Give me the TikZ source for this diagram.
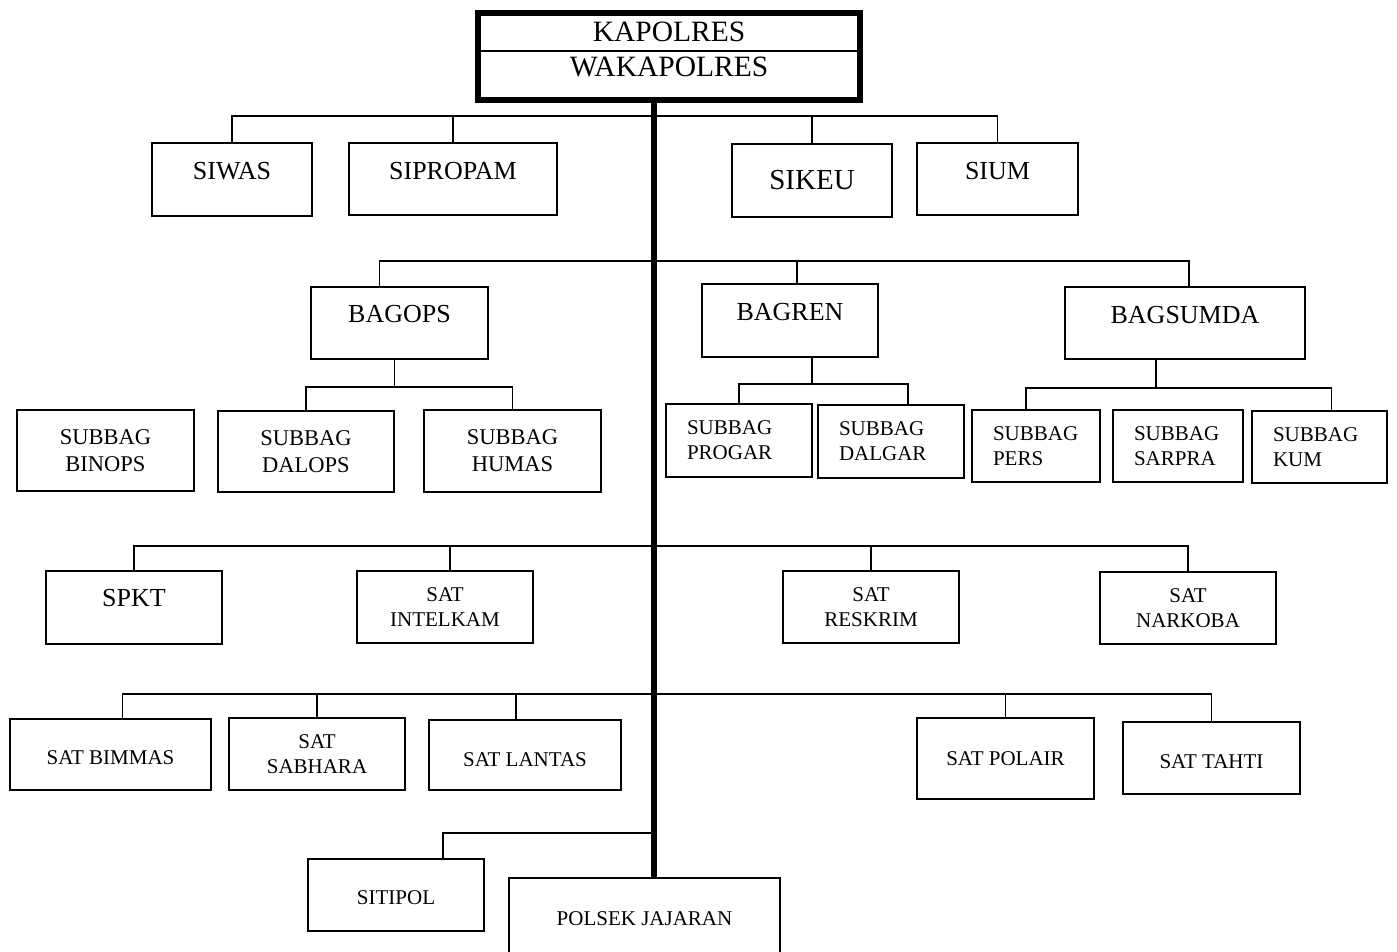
\documentclass[tikz,border=0pt]{standalone}
\usepackage{fontspec}
\setmainfont{Liberation Serif}
\usepackage{tikz}
\tikzstyle{unit}=[draw,line width=1.6pt,inner sep=0pt,outer sep=0pt,align=center]
\tikzstyle{link}=[draw,line width=1.6pt]
\tikzstyle{trunk}=[draw,line width=6pt]
\tikzstyle{big}=[font=\fontsize{29.5}{33}\selectfont]
\tikzstyle{mid}=[font=\fontsize{26}{30}\selectfont]
\tikzstyle{sub}=[font=\fontsize{22.5}{27}\selectfont]
\tikzstyle{small}=[font=\fontsize{21}{25}\selectfont]
\tikzstyle{lefty}=[inner xsep=21pt,align=left]

\begin{document}
\begin{tikzpicture}[x=1pt,y=-1pt]
  \useasboundingbox (0,0) rectangle (1397,952);
  % pimpinan
  \node[unit,big,minimum width=382pt,minimum height=38pt] (kapolres) at (669,32) {KAPOLRES};
  \node[unit,big,minimum width=382pt,minimum height=49pt,text depth=17pt] (wakapolres) at (669,75.5) {WAKAPOLRES};
  % unsur pengawas dan pembantu
  \node[unit,mid,minimum width=160pt,minimum height=73pt,text depth=17pt] (siwas) at (232,179.5) {SIWAS};
  \node[unit,mid,minimum width=208pt,minimum height=72pt,text depth=16pt] (sipropam) at (453,179) {SIPROPAM};
  \node[unit,font=\fontsize{29}{33}\selectfont,minimum width=160pt,minimum height=73pt] (sikeu) at (812,180.5) {SIKEU};
  \node[unit,mid,minimum width=161pt,minimum height=72pt,text depth=16pt] (sium) at (997.5,179) {SIUM};
  % bagian
  \node[unit,mid,minimum width=177pt,minimum height=72pt,text depth=18pt] (bagops) at (399.5,323) {BAGOPS};
  \node[unit,mid,minimum width=176pt,minimum height=73pt,text depth=17pt] (bagren) at (790,320.5) {BAGREN};
  \node[unit,mid,minimum width=240pt,minimum height=72pt,text depth=16pt] (bagsumda) at (1185,323) {BAGSUMDA};
  % subbag
  \node[unit,sub,minimum width=177pt,minimum height=81pt] (binops) at (105.5,450.5) {SUBBAG\\BINOPS};
  \node[unit,sub,minimum width=176pt,minimum height=81pt] (dalops) at (306,451.5) {SUBBAG\\DALOPS};
  \node[unit,sub,minimum width=177pt,minimum height=82pt] (humas) at (512.5,451) {SUBBAG\\HUMAS};
  \node[unit,small,lefty,text width=104pt,minimum width=146pt,minimum height=73pt] (progar) at (739,440.5) {SUBBAG\\PROGAR};
  \node[unit,small,lefty,text width=104pt,minimum width=146pt,minimum height=73pt] (dalgar) at (891,441.5) {SUBBAG\\DALGAR};
  \node[unit,small,lefty,text width=86pt,minimum width=128pt,minimum height=72pt] (pers) at (1036,446) {SUBBAG\\PERS};
  \node[unit,small,lefty,text width=88pt,minimum width=130pt,minimum height=72pt] (sarpra) at (1178,446) {SUBBAG\\SARPRA};
  \node[unit,small,lefty,text width=93pt,minimum width=135pt,minimum height=72pt] (kum) at (1319.5,447) {SUBBAG\\KUM};
  % satuan fungsi
  \node[unit,mid,minimum width=176pt,minimum height=73pt,text depth=19pt] (spkt) at (134,607.5) {SPKT};
  \node[unit,small,minimum width=176pt,minimum height=72pt] (intelkam) at (445,607) {SAT\\INTELKAM};
  \node[unit,small,minimum width=176pt,minimum height=72pt] (reskrim) at (871,607) {SAT\\RESKRIM};
  \node[unit,small,minimum width=176pt,minimum height=72pt] (narkoba) at (1188,608) {SAT\\NARKOBA};
  \node[unit,small,minimum width=201pt,minimum height=71pt,text height=21pt] (bimmas) at (110.5,754.5) {SAT BIMMAS};
  \node[unit,small,minimum width=176pt,minimum height=72pt] (sabhara) at (317,754) {SAT\\SABHARA};
  \node[unit,small,minimum width=192pt,minimum height=70pt,text height=24pt] (lantas) at (525,755) {SAT LANTAS};
  \node[unit,small,minimum width=177pt,minimum height=81pt] (polair) at (1005.5,758.5) {SAT POLAIR};
  \node[unit,small,minimum width=177pt,minimum height=72pt,text height=22pt] (tahti) at (1211.5,758) {SAT TAHTI};
  \node[unit,small,minimum width=176pt,minimum height=72pt,text height=20pt] (sitipol) at (396,895) {SITIPOL};
  \node[unit,small,minimum width=271pt,minimum height=82pt] (polsek) at (644.5,919) {POLSEK JAJARAN};
  % garis
  \coordinate (spinex) at (654,0);
  \coordinate (sibus) at (0,116);
  \coordinate (bagbus) at (0,261);
  \coordinate (opsbus) at (0,387);
  \coordinate (renbus) at (0,384);
  \coordinate (sumdabus) at (0,388);
  \coordinate (satbus) at (0,546);
  \coordinate (lowbus) at (0,694);
  \coordinate (sitibus) at (0,833);
  \draw[link] (siwas.north) |- (sium.north |- sibus) -- (sium.north);
  \draw[link] (sipropam.north) -- (sipropam.north |- sibus);
  \draw[link] (sikeu.north) -- (sikeu.north |- sibus);
  \draw[link] ([xshift=-20pt]bagops.north) |- ([xshift=4pt]bagsumda.north |- bagbus) -- ([xshift=4pt]bagsumda.north);
  \draw[link] ([xshift=7pt]bagren.north) -- ([xshift=7pt]bagren.north |- bagbus);
  \draw[link] ([xshift=-5pt]bagops.south) -- ([xshift=-5pt]bagops.south |- opsbus);
  \draw[link] (dalops.north) |- (humas.north |- opsbus) -- (humas.north);
  \draw[link] ([xshift=22pt]bagren.south) -- ([xshift=22pt]bagren.south |- renbus);
  \draw[link] (progar.north) |- ([xshift=17pt]dalgar.north |- renbus) -- ([xshift=17pt]dalgar.north);
  \draw[link] ([xshift=-29pt]bagsumda.south) -- ([xshift=-29pt]bagsumda.south |- sumdabus);
  \draw[link] ([xshift=-10pt]pers.north) |- ([xshift=12pt]kum.north |- sumdabus) -- ([xshift=12pt]kum.north);
  \draw[link] (spkt.north) |- (narkoba.north |- satbus) -- (narkoba.north);
  \draw[link] ([xshift=5pt]intelkam.north) -- ([xshift=5pt]intelkam.north |- satbus);
  \draw[link] (reskrim.north) -- (reskrim.north |- satbus);
  \draw[link] ([xshift=12pt]bimmas.north) |- (tahti.north |- lowbus) -- (tahti.north);
  \draw[link] (sabhara.north) -- (sabhara.north |- lowbus);
  \draw[link] ([xshift=-9pt]lantas.north) -- ([xshift=-9pt]lantas.north |- lowbus);
  \draw[link] (polair.north) -- (polair.north |- lowbus);
  \draw[link] ([xshift=47pt]sitipol.north) |- (spinex |- sitibus);
  \draw[trunk] (wakapolres.south -| spinex) -- (polsek.north -| spinex);
  \draw[trunk] (kapolres.north west) rectangle (wakapolres.south east);
\end{tikzpicture}
\end{document}
